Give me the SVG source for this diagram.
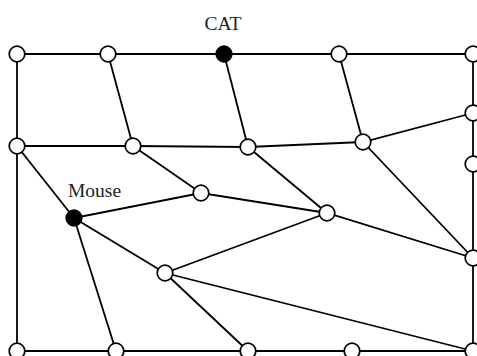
<svg xmlns="http://www.w3.org/2000/svg" width="477" height="356" viewBox="0 0 477 356">
  <style>
    .edge { stroke: #000; stroke-width: 1.8; fill: none; }
    .node { stroke: #000; stroke-width: 1.7; fill: #fff; }
    .node.filled { fill: #000; }
    .label { font-family: "Liberation Serif", "DejaVu Serif", serif; font-size: 19.5px; fill: #222; }
  </style>
  <rect width="477" height="356" fill="#fff"/>
  <g id="connectors" class="edge">
    <!-- outer frame -->
    <polyline points="17,54 473,54"/>
    <polyline points="17,351 473,351"/>
    <polyline points="17,54 17,351"/>
    <polyline points="473,54 473,351"/>
    <!-- upper band -->
    <line x1="108" y1="54" x2="133" y2="146"/>
    <line x1="224" y1="54" x2="248" y2="147"/>
    <line x1="339" y1="54" x2="363" y2="142"/>
    <polyline points="17,146 133,146 248,147 363,142 473,113"/>
    <!-- inner mesh -->
    <line x1="17" y1="146" x2="74" y2="218"/>
    <line x1="133" y1="146" x2="201" y2="193"/>
    <line x1="248" y1="147" x2="327" y2="213"/>
    <line x1="363" y1="142" x2="473" y2="258"/>
    <polyline points="74,218 201,193 327,213 473,258"/>
    <line x1="74" y1="218" x2="165" y2="273"/>
    <line x1="74" y1="218" x2="116" y2="351"/>
    <line x1="165" y1="273" x2="327" y2="213"/>
    <line x1="165" y1="273" x2="473" y2="351"/>
    <line x1="165" y1="273" x2="248" y2="351"/>
  </g>
  <g id="n-top-1"><circle class="node" cx="17" cy="54" r="7.8"/></g>
  <g id="n-top-2"><circle class="node" cx="108" cy="54" r="7.8"/></g>
  <g id="n-cat"><circle class="node filled" cx="224" cy="54" r="7.8"/><text class="label" x="223" y="30" text-anchor="middle">CAT</text></g>
  <g id="n-top-4"><circle class="node" cx="339" cy="54" r="7.8"/></g>
  <g id="n-top-5"><circle class="node" cx="473" cy="54" r="7.8"/></g>
  <g id="n-mid-1"><circle class="node" cx="17" cy="146" r="7.8"/></g>
  <g id="n-mid-2"><circle class="node" cx="133" cy="146" r="7.8"/></g>
  <g id="n-mid-3"><circle class="node" cx="248" cy="147" r="7.8"/></g>
  <g id="n-mid-4"><circle class="node" cx="363" cy="142" r="7.8"/></g>
  <g id="n-right-1"><circle class="node" cx="473" cy="113" r="7.8"/></g>
  <g id="n-right-2"><circle class="node" cx="473" cy="164" r="7.8"/></g>
  <g id="n-right-3"><circle class="node" cx="473" cy="258" r="7.8"/></g>
  <g id="n-mouse"><circle class="node filled" cx="74" cy="218" r="7.8"/><text class="label" x="68" y="197">Mouse</text></g>
  <g id="n-inner-1"><circle class="node" cx="201" cy="193" r="7.8"/></g>
  <g id="n-inner-2"><circle class="node" cx="327" cy="213" r="7.8"/></g>
  <g id="n-inner-3"><circle class="node" cx="165" cy="273" r="7.8"/></g>
  <g id="n-bot-1"><circle class="node" cx="17" cy="351" r="7.8"/></g>
  <g id="n-bot-2"><circle class="node" cx="116" cy="351" r="7.8"/></g>
  <g id="n-bot-3"><circle class="node" cx="248" cy="351" r="7.8"/></g>
  <g id="n-bot-4"><circle class="node" cx="352" cy="351" r="7.8"/></g>
  <g id="n-bot-5"><circle class="node" cx="473" cy="351" r="7.8"/></g>
</svg>
